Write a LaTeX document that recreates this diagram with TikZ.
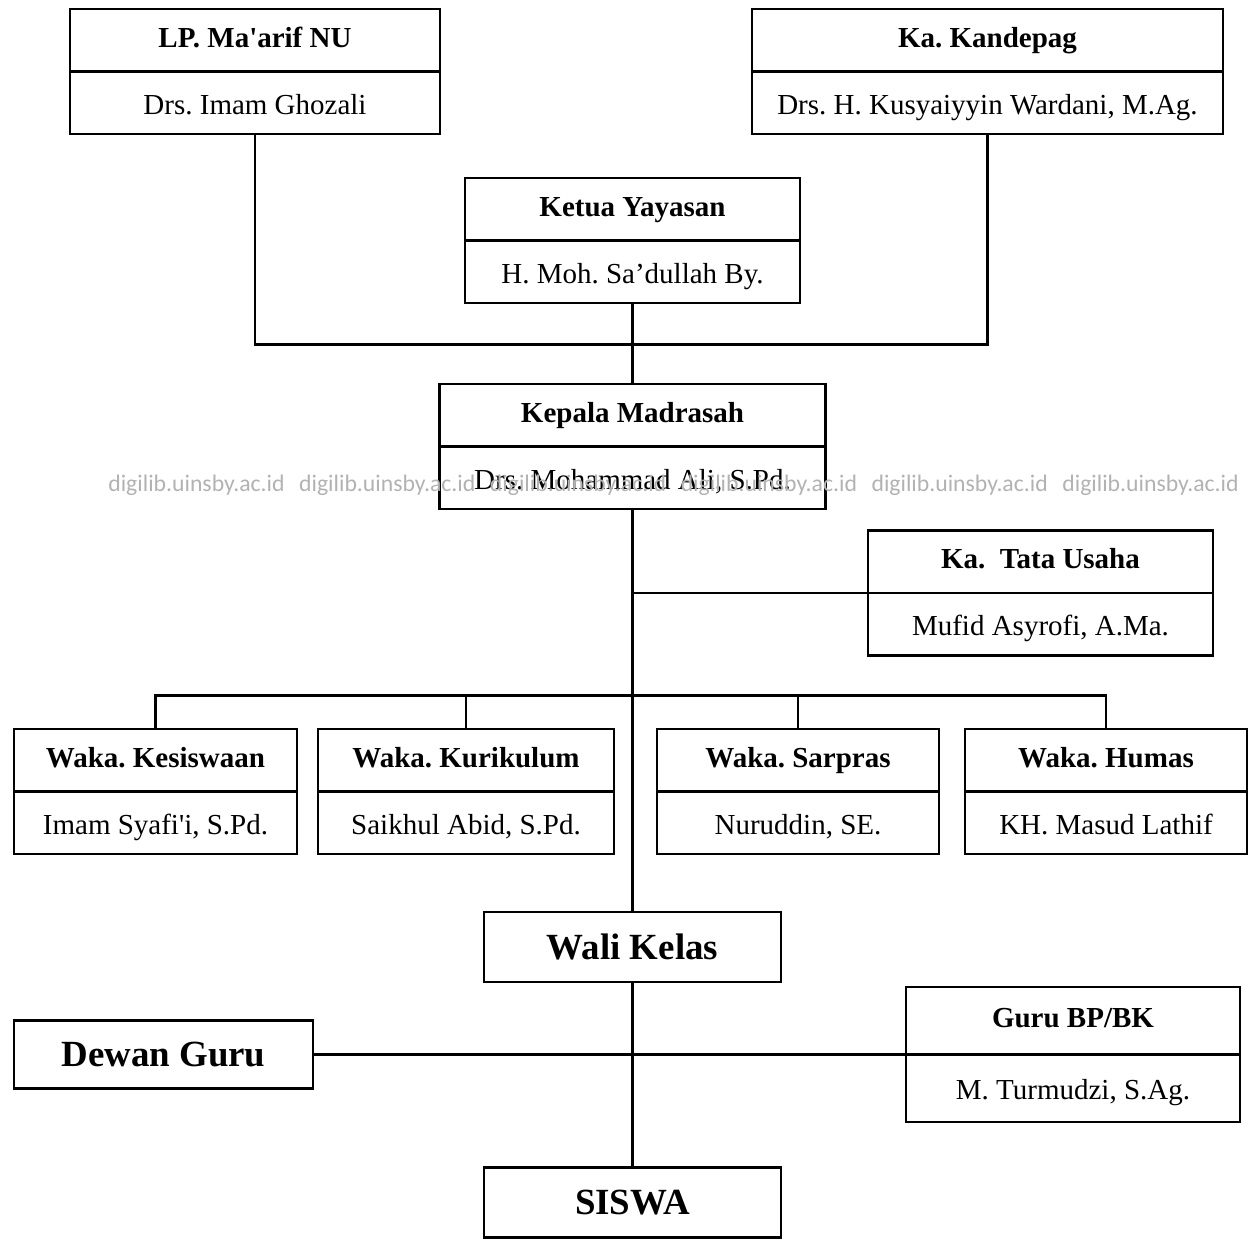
\documentclass[tikz,border=0pt]{standalone}
\usepackage{fontspec}
\setmainfont{Liberation Serif}
\newfontfamily\wmfont{Carlito}
\usepackage{tikz}
\usetikzlibrary{shapes, calc}
\frenchspacing
\newcommand{\headstrut}{\rule[-0.46cm]{0pt}{1.2cm}}
\newcommand{\namestrut}{\rule[-0.37cm]{0pt}{1.2cm}}
\tikzstyle{unit} = [rectangle split, rectangle split parts=2, draw=black, line width=1.5pt, inner xsep=4pt, inner ysep=0pt, text centered, font=\fontsize{16.5}{20}\selectfont]
\tikzstyle{bigbox} = [rectangle, draw=black, line width=1.5pt, minimum height=1.4cm, text centered, font=\fontsize{21}{25}\selectfont\bfseries]
\tikzstyle{line} = [line width=1.4pt]
\tikzstyle{wmark} = [inner sep=0pt, text=black!30, font=\wmfont\fontsize{13.5}{16}\selectfont]

\begin{document}
\begin{tikzpicture}
\useasboundingbox (0,0) rectangle (25,-24.9);

% Top
\node (lp) [unit, minimum width=7.4cm] at (5.1,-1.43) {\headstrut\textbf{LP. Ma\textquotesingle arif NU}\nodepart{two}\namestrut Drs. Imam Ghozali};
\node (kandepag) [unit, minimum width=9.42cm, right of=lp, xshift=13.65cm] {\headstrut\textbf{Ka. Kandepag}\nodepart{two}\namestrut Drs. H. Kusyaiyyin Wardani, M.Ag.};
\node (ketua) [unit, minimum width=6.7cm, below of=lp, xshift=7.55cm, yshift=-2.38cm] {\headstrut\textbf{Ketua Yayasan}\nodepart{two}\namestrut H. Moh. Sa’dullah By.};
\node (kepala) [unit, minimum width=7.72cm, below of=ketua, yshift=-3.12cm] {\headstrut\textbf{Kepala Madrasah}\nodepart{two}\namestrut Drs. Mohammad Ali, S.Pd.};
\node (tatausaha) [unit, minimum width=6.9cm, right of=kepala, xshift=7.16cm, yshift=-2.93cm] {\headstrut\textbf{Ka.~~Tata Usaha}\nodepart{two}\namestrut Mufid Asyrofi, A.Ma.};

% Waka
\node (kesiswaan) [unit, minimum width=5.66cm, below of=kepala, xshift=-9.54cm, yshift=-5.9cm] {\headstrut\textbf{Waka. Kesiswaan}\nodepart{two}\namestrut Imam Syafi\textquotesingle i, S.Pd.};
\node (kurikulum) [unit, minimum width=5.92cm, right of=kesiswaan, xshift=5.21cm] {\headstrut\textbf{Waka. Kurikulum}\nodepart{two}\namestrut Saikhul Abid, S.Pd.};
\node (sarpras) [unit, minimum width=5.64cm, right of=kurikulum, xshift=5.64cm] {\headstrut\textbf{Waka. Sarpras}\nodepart{two}\namestrut Nuruddin, SE.};
\node (humas) [unit, minimum width=5.64cm, right of=sarpras, xshift=5.16cm] {\headstrut\textbf{Waka. Humas}\nodepart{two}\namestrut KH. Masud Lathif};

% Bottom
\node (walikelas) [bigbox, minimum width=5.94cm, below of=kepala, yshift=-9.01cm] {Wali Kelas};
\node (siswa) [bigbox, minimum width=5.94cm, below of=walikelas, yshift=-4.11cm] {SISWA};
\node (dewan) [bigbox, minimum width=5.98cm, minimum height=1.36cm, left of=walikelas, xshift=-8.38cm, yshift=-2.15cm] {Dewan Guru};
\node (gurubp) [unit, inner ysep=0.05cm, minimum width=6.68cm, right of=walikelas, xshift=7.81cm, yshift=-2.15cm] {\headstrut\textbf{Guru BP/BK}\nodepart{two}\namestrut M. Turmudzi, S.Ag.};

\coordinate (join) at ($(ketua.south)+(0,-0.8)$);
\coordinate (bus) at ($(kesiswaan.north)+(0,0.64)$);

\draw [line] (lp.south) |- (join) -| (kandepag.south);
\draw [line] (ketua.south) -- (kepala.north);
\draw [line] (kepala.south) -- (walikelas.north);
\draw [line] (tatausaha.text split west) -- (tatausaha.text split west -| kepala.south);
\draw [line] (kesiswaan.north) -- (bus) -| (humas.north);
\draw [line] (kurikulum.north) -- (kurikulum.north |- bus);
\draw [line] (sarpras.north) -- (sarpras.north |- bus);
\draw [line] (walikelas.south) -- (siswa.north);
\draw [line] (dewan.east) -- (dewan.east -| gurubp.west);

% Watermark
\node (wm1) [wmark, anchor=base west] at (2.16,-9.82) {digilib.uinsby.ac.id};
\node (wm2) [wmark, anchor=base west, right of=wm1, xshift=2.816cm] {digilib.uinsby.ac.id};
\node (wm3) [wmark, anchor=base west, right of=wm2, xshift=2.816cm] {digilib.uinsby.ac.id};
\node (wm4) [wmark, anchor=base west, right of=wm3, xshift=2.816cm] {digilib.uinsby.ac.id};
\node (wm5) [wmark, anchor=base west, right of=wm4, xshift=2.816cm] {digilib.uinsby.ac.id};
\node (wm6) [wmark, anchor=base west, right of=wm5, xshift=2.816cm] {digilib.uinsby.ac.id};

\end{tikzpicture}
\end{document}
